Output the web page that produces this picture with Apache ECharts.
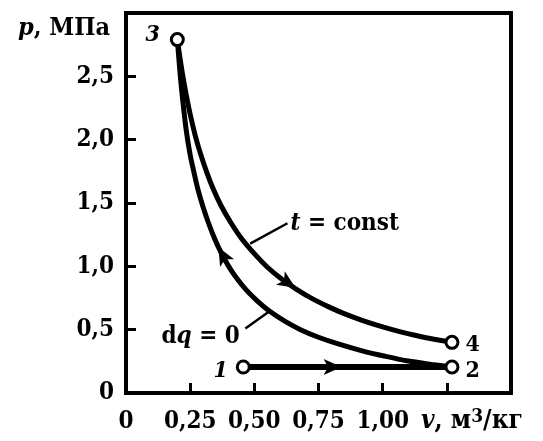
<!DOCTYPE html>
<html>
<head>
<meta charset="utf-8">
<script src="https://cdn.jsdelivr.net/npm/echarts@6/dist/echarts.min.js"></script>
<style>html,body{margin:0;padding:0;background:#fff;}#c{width:543px;height:441px;}</style>
</head>
<body>
<div id="c"></div>
<script>
// ---- data ----
const xTickValues = [0, 0.25, 0.5, 0.75, 1.0, 1.25, 1.5];
const xTickLabels = ['0', '0,25', '0,50', '0,75', '1,00', '', ''];
const yTickValues = [0, 0.5, 1.0, 1.5, 2.0, 2.5, 3.0];
const yTickLabels = ['0', '0,5', '1,0', '1,5', '2,0', '2,5', ''];

const pointNames = ['1', '2', '3', '4'];
const pointV = [0.457, 1.27, 0.20, 1.27];
const pointP = [0.205, 0.205, 2.79, 0.40];

// isotherm 3 -> 4 (t = const)
const isothermV = [0.20, 0.21, 0.22, 0.235, 0.25, 0.27, 0.29, 0.315, 0.34, 0.37, 0.41, 0.45, 0.50, 0.55, 0.60, 0.66, 0.72, 0.79, 0.85, 0.92, 1.00, 1.07, 1.13, 1.20, 1.27];
const isothermP = [2.79, 2.65, 2.52, 2.35, 2.20, 2.03, 1.89, 1.74, 1.61, 1.48, 1.34, 1.22, 1.10, 0.995, 0.91, 0.824, 0.751, 0.68, 0.627, 0.574, 0.522, 0.483, 0.454, 0.424, 0.40];

// adiabat 2 -> 3 (dq = 0)
const adiabatV = [0.20, 0.21, 0.22, 0.235, 0.25, 0.265, 0.28, 0.30, 0.32, 0.345, 0.37, 0.40, 0.43, 0.47, 0.51, 0.56, 0.62, 0.68, 0.75, 0.83, 0.92, 1.01, 1.10, 1.19, 1.27];
const adiabatP = [2.79, 2.54, 2.33, 2.07, 1.88, 1.74, 1.61, 1.47, 1.35, 1.22, 1.11, 1.00, 0.91, 0.81, 0.73, 0.645, 0.565, 0.50, 0.44, 0.385, 0.333, 0.290, 0.252, 0.226, 0.205];

// isobar 1 -> 2
const isobarV = [0.457, 1.27];
const isobarP = [0.205, 0.205];

// direction arrows: [fromV, fromP, toV, toP]
const arrowIsotherm = [0.60, 0.91, 0.66, 0.83];
const arrowAdiabat = [0.42, 0.93, 0.36, 1.15];
const arrowIsobar = [0.72, 0.205, 0.84, 0.205];

// leader lines for annotations
const leaderIsothermV = [0.484, 0.629];
const leaderIsothermP = [1.18, 1.34];
const leaderAdiabatV = [0.465, 0.555];
const leaderAdiabatP = [0.51, 0.64];

// ---- build ----
const FONT = "'DejaVu Serif Condensed', 'DejaVu Serif', serif";
const zip = (a, b) => a.map((v, i) => [v, b[i]]);
const fmtX = v => { const i = xTickValues.findIndex(t => Math.abs(t - v) < 1e-6); return i >= 0 ? xTickLabels[i] : ''; };
const fmtY = v => { const i = yTickValues.findIndex(t => Math.abs(t - v) < 1e-6); return i >= 0 ? yTickLabels[i] : ''; };
const rich = (size) => ({
  i: { fontFamily: FONT, fontWeight: 'bold', fontStyle: 'italic', fontSize: size, color: '#000' },
  b: { fontFamily: FONT, fontWeight: 'bold', fontSize: size, color: '#000' },
  s: { fontFamily: FONT, fontWeight: 'bold', fontSize: Math.round(size * 0.72), color: '#000', verticalAlign: 'top' }
});

const labelPos = { '1': 'left', '2': 'right', '3': 'left', '4': 'right' };
const labelItalic = { '1': 'italic', '2': 'normal', '3': 'italic', '4': 'normal' };
const labelOffset = { '1': [-2, 4], '2': [0, 4], '3': [-4, -5], '4': [0, 3] };

const arrowLine = a => [{ coord: [a[0], a[1]] }, { coord: [a[2], a[3]] }];

const chart = echarts.init(document.getElementById('c'), null, { renderer: 'canvas' });
chart.setOption({
  animation: false,
  backgroundColor: '#fff',
  grid: { left: 126, right: 32, top: 13, bottom: 48, show: true, borderColor: '#000', borderWidth: 4, backgroundColor: 'transparent' },
  title: [
    { text: '{i|p}{b|, МПа}', left: 13, top: 11, textStyle: { rich: rich(25) } },
    { text: '{i|v}{b|, м}{s|3}{b|/кг}', left: 416, top: 403, textStyle: { rich: rich(26) } }
  ],
  xAxis: {
    type: 'value', min: 0, max: 1.5, interval: 0.25,
    axisLine: { show: true, onZero: false, lineStyle: { color: '#000', width: 4 } },
    axisTick: { show: true, inside: true, length: 10, lineStyle: { color: '#000', width: 3 } },
    splitLine: { show: false },
    axisLabel: { formatter: fmtX, margin: 17, color: '#000', fontFamily: FONT, fontWeight: 'bold', fontSize: 24, showMaxLabel: true, showMinLabel: true }
  },
  yAxis: {
    type: 'value', min: 0, max: 3, interval: 0.5,
    axisLine: { show: true, onZero: false, lineStyle: { color: '#000', width: 4 } },
    axisTick: { show: true, inside: true, length: 10, lineStyle: { color: '#000', width: 3 } },
    splitLine: { show: false },
    axisLabel: { formatter: fmtY, margin: 12, color: '#000', fontFamily: FONT, fontWeight: 'bold', fontSize: 24 }
  },
  series: [
    { type: 'line', name: 'isotherm', data: zip(isothermV, isothermP), smooth: 0.3, symbol: 'none',
      lineStyle: { color: '#000', width: 5 }, z: 3 },
    { type: 'line', name: 'adiabat', data: zip(adiabatV, adiabatP), smooth: 0.3, symbol: 'none',
      lineStyle: { color: '#000', width: 5 }, z: 3 },
    { type: 'line', name: 'isobar', data: zip(isobarV, isobarP), symbol: 'none',
      lineStyle: { color: '#000', width: 6 }, z: 3 },
    { type: 'line', name: 'leader1', data: zip(leaderIsothermV, leaderIsothermP), symbol: 'none',
      lineStyle: { color: '#000', width: 2.5 }, z: 3,
      endLabel: { show: true, distance: 3, formatter: '{i|t}{b| = const}', rich: rich(24) } },
    { type: 'line', name: 'leader2', data: zip(leaderAdiabatV, leaderAdiabatP), symbol: 'none',
      lineStyle: { color: '#000', width: 2.5 }, z: 3 },
    { type: 'scatter', name: 'dqlabel', data: [[leaderAdiabatV[0], leaderAdiabatP[0]]], symbolSize: 1,
      itemStyle: { color: 'rgba(0,0,0,0)', opacity: 1 },
      label: { show: true, position: 'left', distance: 5, offset: [0, 8], formatter: '{b|d}{i|q}{b| = 0}', rich: rich(24) }, z: 3 },
    { type: 'line', name: 'arrows', data: [], symbol: 'none',
      markLine: { silent: true, symbol: ['none', 'arrow'], symbolSize: [12, 18], label: { show: false },
        lineStyle: { color: '#000', width: 2, type: 'solid' },
        data: [arrowLine(arrowIsotherm), arrowLine(arrowAdiabat), arrowLine(arrowIsobar)] }, z: 4 },
    { type: 'scatter', name: 'points', symbol: 'circle', symbolSize: 12, z: 5,
      itemStyle: { color: '#fff', borderColor: '#000', borderWidth: 3, opacity: 1 },
      data: pointNames.map((n, i) => ({ value: [pointV[i], pointP[i]], name: n,
        label: { show: true, position: labelPos[n], distance: 6, offset: labelOffset[n], formatter: n,
          fontFamily: FONT, fontWeight: 'bold', fontStyle: labelItalic[n], fontSize: 23, color: '#000' } })) }
  ]
});
</script>
</body>
</html>
